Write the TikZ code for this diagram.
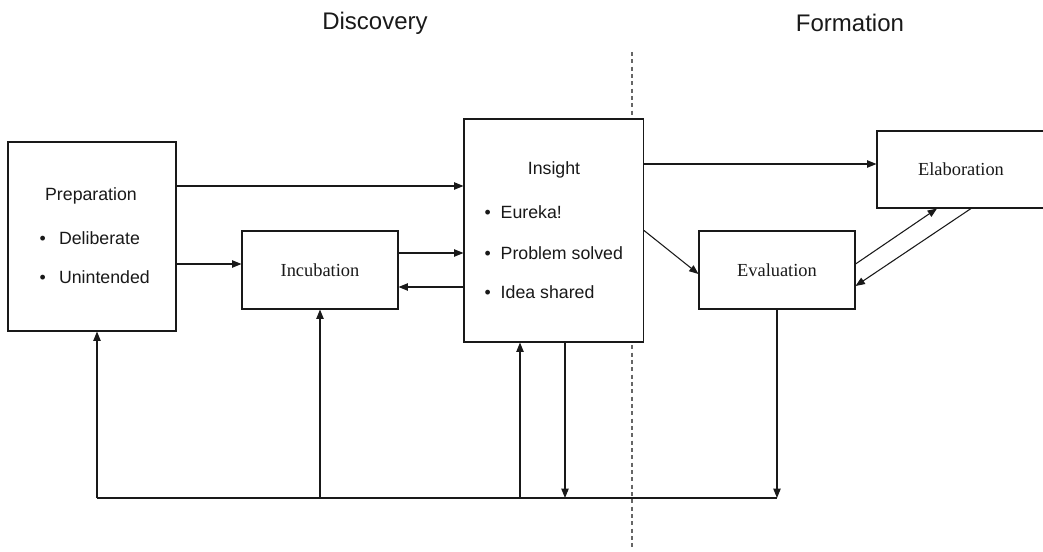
\documentclass[tikz,border=0pt]{standalone}
\usepackage{fontspec}
\setmainfont{Liberation Serif}
\setsansfont{Liberation Sans}
\usetikzlibrary{positioning, arrows.meta, calc}

\begin{document}
\begin{tikzpicture}[x=0.75pt, y=-0.75pt, line width=0.8pt, black!90,
    >={Triangle[length=7pt, width=5.5pt]},
    box/.style={draw, fill=white, minimum width=#1, align=center, inner sep=0pt,
                font=\fontsize{13.8}{16}\selectfont},
    box/.default=117pt,
    item/.style={anchor=west, inner sep=0pt, font=\sffamily\fontsize{13.3}{16}\selectfont},
    head/.style={font=\sffamily\fontsize{18}{22}\selectfont},
]
\useasboundingbox (0,0) rectangle (1043,552);

% Stage headings and the divider
\node[head] (hdisc) at (375,23) {Discovery};
\node[head] (hform) at (850,23) {Formation};
\coordinate (divtop) at (632,52);
\coordinate (divbot) at (632,548);
\draw[dash pattern=on 3pt off 2.5pt, black!60] (divtop) -- (divbot);

% Boxes
\node[box=126pt, minimum height=141.75pt] (prep) at (92,236.5) {};
\node[box, minimum height=58.5pt] (incub) at (320,270) {Incubation};
\node[box=134.6pt, minimum height=167.25pt] (insight) at (553.75,230.5) {};
\node[box, minimum height=58.5pt] (evalbox) at (777,270) {Evaluation};
\node[box=126pt, minimum height=57.75pt] (elab) at (961,169.5) {Elaboration};

% Texts in Preparation
\node[item, anchor=center] (preptitle) at (91,196) {Preparation};
\node[item] (prepa) at (39,238) {\textbullet\hspace{10pt}Deliberate};
\node[item] (prepb) at (39,277) {\textbullet\hspace{10pt}Unintended};

% Texts in Insight
\node[item, anchor=center] (institle) at (554,170) {Insight};
\node[item] (insa) at (484,212) {\textbullet\hspace{7.5pt}Eureka!};
\node[item] (insb) at (484,253) {\textbullet\hspace{7.5pt}Problem solved};
\node[item] (insc) at (484,292) {\textbullet\hspace{7.5pt}Idea shared};

% Forward arrows
\draw[->] (prep.east |- 0,186) -- (insight.west |- 0,186);
\draw[->] (prep.east |- 0,264) -- (incub.west |- 0,264);
\draw[->] (incub.east |- 0,253) -- (insight.west |- 0,253);
\draw[->] (insight.west |- 0,287) -- (incub.east |- 0,287);
\draw[->] (insight.east |- 0,164) -- (elab.west |- 0,164);
\draw[->] (insight.east) -- ([yshift=-3pt]evalbox.west);
\draw[->] ([yshift=4.5pt]evalbox.east) -- ([xshift=-18pt]elab.south);
\draw[->] ([xshift=7.5pt]elab.south) -- ([yshift=-12pt]evalbox.east);

% Feedback line along the bottom
\coordinate (fbL) at (97,498);
\coordinate (fbup) at (520,498);
\coordinate (fbdown) at (565,498);
\draw (fbL) -- (evalbox.south |- fbL);
\draw[->] (fbL) -- (fbL |- prep.south);
\draw[->] (incub.south |- fbL) -- (incub.south);
\draw[->] (fbup) -- (fbup |- insight.south);
\draw[->] (fbdown |- insight.south) -- (fbdown);
\draw[->] (evalbox.south) -- (evalbox.south |- fbL);

\end{tikzpicture}
\end{document}
